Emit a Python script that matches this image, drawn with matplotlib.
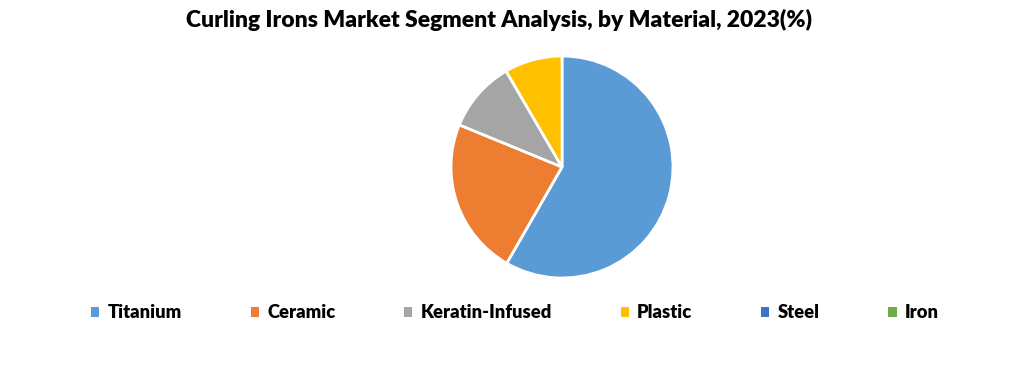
import matplotlib.pyplot as plt
from matplotlib.patches import Patch

materials = ['Titanium', 'Ceramic', 'Keratin-Infused', 'Plastic', 'Steel', 'Iron']
shares = [58.3, 22.9, 10.4, 8.4, 0, 0]
colors = ['#5B9BD5', '#ED7D31', '#A5A5A5', '#FFC000', '#4472C4', '#70AD47']

plt.rcParams['font.family'] = ['Lato', 'DejaVu Sans']

fig = plt.figure(figsize=(10.32, 3.72), dpi=100)
W, H = 1032, 372
cx, cy, r = 562, 167, 111
ax = fig.add_axes([(cx - r) / W, (H - cy - r) / H, 2 * r / W, 2 * r / H])

# only non-zero slices are drawn, zero ones stay in the legend
vals = [v for v in shares if v > 0]
cols = [c for v, c in zip(shares, colors) if v > 0]
ax.pie(vals, colors=cols, startangle=90, counterclock=False, radius=1,
       wedgeprops=dict(edgecolor='white', linewidth=2))
ax.set_xlim(-1, 1)
ax.set_ylim(-1, 1)
ax.set_aspect('equal')

fig.text(499 / W, 1 - 20 / H, 'Curling Irons Market Segment Analysis, by Material, 2023(%)',
         ha='center', va='center', fontsize=16.5, fontweight='heavy')

handles = [Patch(facecolor=c, edgecolor='none') for c in colors]
fig.legend(handles, materials, loc='center', bbox_to_anchor=(515 / W, 1 - 313 / H),
           ncol=6, frameon=False, prop=dict(size=13.2, weight='heavy'),
           handlelength=0.45, handleheight=0.45, handletextpad=0.45, columnspacing=3.75)

fig.savefig('out.png', dpi=100)
